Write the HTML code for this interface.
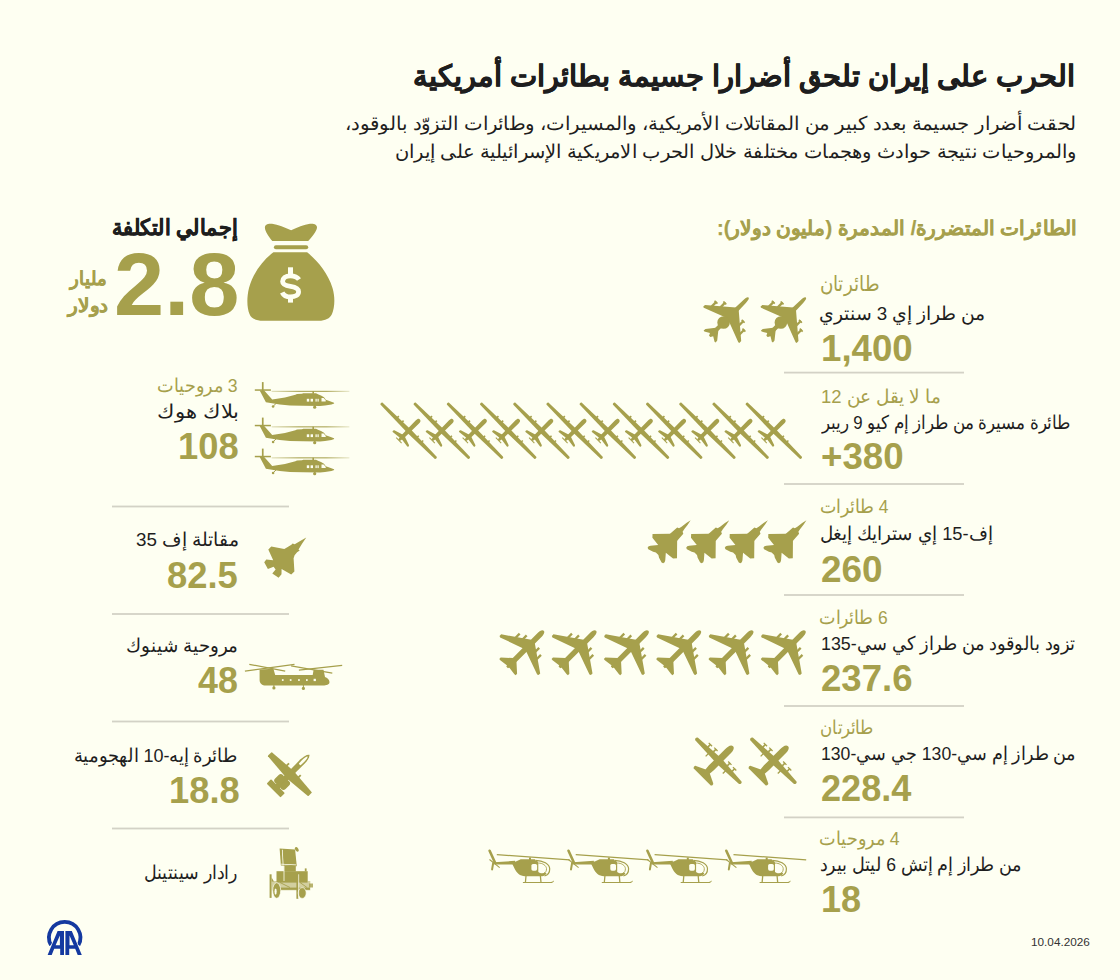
<!DOCTYPE html><html lang="ar"><head><meta charset="utf-8"><style>*{margin:0;padding:0;box-sizing:border-box}
html,body{width:1120px;height:980px;overflow:hidden;background:#fefff2}
body{position:relative;font-family:"Liberation Sans",sans-serif}
.t{position:absolute;white-space:nowrap;line-height:1;transform-origin:0 0;direction:rtl;unicode-bidi:isolate}
.n{direction:ltr}
.b{font-weight:bold}
#title,#tot{-webkit-text-stroke:0.45px currentColor}
#sec,#mil1,#mil2{-webkit-text-stroke:0.25px currentColor}
.bl{display:inline-block;width:0;height:0;vertical-align:baseline}
.ic{position:absolute;left:0;top:0}</style></head><body>
<svg class="ic" width="1120" height="980" viewBox="0 0 1120 980"><defs><linearGradient id="bhr" x1="0" x2="1" y1="0" y2="0"><stop offset="0" stop-color="#a6a04c" stop-opacity="0.35"/><stop offset="0.35" stop-color="#a6a04c" stop-opacity="0.95"/><stop offset="0.7" stop-color="#a6a04c" stop-opacity="0.95"/><stop offset="1" stop-color="#a6a04c" stop-opacity="0.25"/></linearGradient><g id="e3">
<path d="M0,-28.7 C1.3,-28.7 1.9,-26.5 1.9,-23 L2.3,-12 L2.1,20 L0.8,25.6 L-0.8,25.6 L-2.1,20 L-2.3,-12 L-1.9,-23 C-1.9,-26.5 -1.3,-28.7 0,-28.7Z"/>
<polygon points="2.00,-12.80 25.60,7.30 25.60,9.90 24.40,10.20 2.00,1.60 -2.00,1.60 -24.40,10.20 -25.60,9.90 -25.60,7.30 -2.00,-12.80"/>
<polygon points="1.80,15.80 8.30,23.90 8.50,26.30 7.20,26.60 2.30,23.60 0.90,26.20 -0.90,26.20 -2.30,23.60 -7.20,26.60 -8.50,26.30 -8.30,23.90 -1.80,15.80"/>
<circle cx="0" cy="6.6" r="6.3"/>
<rect x="11.8" y="-8.9" width="2.3" height="7"/><rect x="-14.1" y="-8.9" width="2.3" height="7"/>
<rect x="18.6" y="-3.2" width="2.3" height="7"/><rect x="-20.9" y="-3.2" width="2.3" height="7"/>
<rect x="10.9" y="-8.9" width="4.1" height="1.6"/><rect x="-15" y="-8.9" width="4.1" height="1.6"/>
<rect x="17.7" y="-3.2" width="4.1" height="1.6"/><rect x="-21.8" y="-3.2" width="4.1" height="1.6"/>
</g><g id="kc">
<path d="M0,-25.3 C2,-25.3 2.7,-22.5 2.7,-19 L2.7,20 L1.2,26.5 L-1.2,26.5 L-2.7,20 L-2.7,-19 C-2.7,-22.5 -2,-25.3 0,-25.3Z"/>
<polygon points="2.50,-10.20 27.60,7.30 27.60,9.60 26.20,10.20 2.50,1.80 -2.50,1.80 -26.20,10.20 -27.60,9.60 -27.60,7.30 -2.50,-10.20"/>
<polygon points="2.20,15.50 11.60,24.00 11.60,26.00 10.00,26.20 2.20,25.20 -2.20,25.20 -10.00,26.20 -11.60,26.00 -11.60,24.00 -2.20,15.50"/>
<rect x="7.7" y="-10" width="2.3" height="6.5"/><rect x="-10" y="-10" width="2.3" height="6.5"/>
<rect x="13.9" y="-6.3" width="2.3" height="6.5"/><rect x="-16.2" y="-6.3" width="2.3" height="6.5"/>
</g><g id="mq">
<path d="M0,-16 C1.6,-16 2.2,-14.5 2.2,-12.5 L1.9,9 L1.1,13.6 L-1.1,13.6 L-1.9,9 L-2.2,-12.5 C-2.2,-14.5 -1.6,-16 0,-16Z"/>
<path d="M1.5,-2.4 L38.2,-1.5 C39.4,-1.4 39.4,1.3 38.2,1.4 L1.5,2.3 L-38.2,1.4 C-39.4,1.3 -39.4,-1.4 -38.2,-1.5 L-1.5,-2.4Z"/>
<path d="M1.2,6.8 L10.3,9.8 C11.3,10.2 11.3,12.1 10.3,12.2 L1.2,10.8 L-10.3,12.2 C-11.3,12.1 -11.3,10.2 -10.3,9.8 L-1.2,6.8Z"/>
<rect x="9.9" y="-3.6" width="1.6" height="2.5"/><rect x="-11.5" y="-3.6" width="1.6" height="2.5"/>
<rect x="16.4" y="-3.4" width="1.6" height="2.5"/><rect x="-18" y="-3.4" width="1.6" height="2.5"/>
<rect x="-3.8" y="13.2" width="7.6" height="1"/>
</g><g id="f15">
<polygon points="0.00,-28.50 1.10,-23.50 1.90,-17.50 2.50,-14.60 4.30,-13.80 4.90,-5.50 5.20,-4.20 17.30,8.10 14.60,11.00 5.40,12.00 10.40,17.80 11.30,19.60 11.00,21.40 9.40,22.00 4.20,20.40 1.80,18.90 0.00,18.90 0.00,18.90 -1.80,18.90 -4.20,20.40 -9.40,22.00 -11.00,21.40 -11.30,19.60 -10.40,17.80 -5.40,12.00 -14.60,11.00 -17.30,8.10 -5.20,-4.20 -4.90,-5.50 -4.30,-13.80 -2.50,-14.60 -1.90,-17.50 -1.10,-23.50 0.00,-28.50"/>
</g><g id="c130">
<path d="M0,-20.6 C2.9,-20.6 3.5,-16.5 3.5,-12.5 L3.4,10 C3.3,15 2.2,18.5 1.4,22.5 L-1.4,22.5 C-2.2,18.5 -3.3,15 -3.4,10 L-3.5,-12.5 C-3.5,-16.5 -2.9,-20.6 0,-20.6Z"/>
<path d="M2,-3.6 L30.6,-1.7 C32.6,-1.5 32.6,1.7 30.6,1.9 L2,3.3 L-30.6,1.9 C-32.6,1.7 -32.6,-1.5 -30.6,-1.7 L-2,-3.6Z"/>
<path d="M1.5,14.5 L12.2,19.6 C13.4,20.2 13.3,22.6 12,22.9 L1.5,23 L-12,22.9 C-13.3,22.6 -13.4,20.2 -12.2,19.6 L-1.5,14.5Z"/>
<rect x="9" y="-6.6" width="1.7" height="4"/><rect x="-10.7" y="-6.6" width="1.7" height="4"/>
<rect x="16.3" y="-6.1" width="1.7" height="4"/><rect x="-18" y="-6.1" width="1.7" height="4"/>
<rect x="7.5" y="-6.9" width="4.7" height="1.3"/><rect x="-12.2" y="-6.9" width="4.7" height="1.3"/>
<rect x="14.8" y="-6.4" width="4.7" height="1.3"/><rect x="-19.5" y="-6.4" width="4.7" height="1.3"/>
<rect x="11.5" y="2" width="1.3" height="4"/><rect x="-12.8" y="2" width="1.3" height="4"/>
</g><g id="a10">
<path d="M0,-27.6 C2.2,-26 3,-22 3,-18 L2.8,19 L-2.8,19 L-3,-18 C-3,-22 -2.2,-26 0,-27.6Z"/>
<path d="M0,-25 C0.9,-24.4 1.4,-22 1.4,-19 L1.2,-14 C0.8,-13.4 -0.8,-13.4 -1.2,-14 L-1.4,-19 C-1.4,-22 -0.9,-24.4 0,-25 Z" fill="#fefff2"/>
<polygon points="2.00,-4.80 28.20,-2.70 28.60,-2.20 28.60,2.30 28.20,2.80 2.00,5.00 -2.00,5.00 -28.20,2.80 -28.60,2.30 -28.60,-2.20 -28.20,-2.70 -2.00,-4.80"/>
<rect x="-9.8" y="16.9" width="19.6" height="6.2" rx="0.9"/>
<rect x="0.8" y="5.5" width="6.6" height="11" rx="3"/><rect x="-7.4" y="5.5" width="6.6" height="11" rx="3"/>
<rect x="7.4" y="-7" width="1.8" height="4"/><rect x="-9.2" y="-7" width="1.8" height="4"/>
</g><g id="f35"><polygon points="51.30,7.40 47.20,13.60 43.50,19.50 44.70,20.40 42.10,22.20 39.60,25.30 38.60,28.30 39.40,41.40 36.20,44.40 26.60,38.90 26.50,44.20 23.60,47.80 17.30,43.50 20.60,39.50 18.60,36.70 12.90,38.90 9.20,32.30 11.30,29.40 18.20,30.30 13.30,19.60 16.30,16.50 29.30,19.00 32.70,17.10 36.40,14.70 37.60,13.50 39.70,14.30 45.20,11.00"/></g><g id="bh">
<rect x="11.9" y="7.1" width="1.7" height="9"/>
<rect x="4.8" y="14.3" width="16.1" height="1.5"/>
<path d="M9.7,15.4 L14.2,15.4 L22.2,24.6 L35,22.4 L45.4,19.8 L47,19.1 L52,18.8 L53.2,18.3 L66,18.3 L68.5,19.6 L71,20.6 L74,22.2 L75.8,24.8 L80,26.3 L84,27.8 L84.2,28.6 L81.5,29.5 L75,30.4 L70,31 L53,30.8 L40,30.4 L29.8,29.4 L15.9,27.2 Z"/>
<rect x="21.6" y="15.8" width="77.8" height="1.1" fill="url(#bhr)"/>
<rect x="62.4" y="16.2" width="1.6" height="2.6"/>
<circle cx="23.1" cy="31.5" r="1.3"/><line x1="23.4" y1="31" x2="26" y2="28.5" stroke-width="1"/>
<circle cx="64.7" cy="32.2" r="1.6"/><rect x="64.1" y="30" width="1.2" height="2.4"/>
<g fill="#fefff2"><rect x="56.8" y="23.8" width="2.4" height="2.8"/><rect x="60.6" y="23.8" width="2.4" height="2.8"/>
<rect x="65.5" y="23.8" width="1.2" height="2.8"/><rect x="67.5" y="23.8" width="1.2" height="2.8"/>
<path d="M71.5,23 L73.6,23 L75.8,25.6 L75.6,26.6 L71.5,26.6Z"/></g>
</g><g id="lb">
<line x1="4.6" y1="5.8" x2="10.2" y2="18" stroke-width="2.6" stroke-linecap="round"/>
<line x1="8.2" y1="18" x2="7.1" y2="24.4" stroke-width="2" stroke-linecap="round"/>
<line x1="4.5" y1="14.5" x2="14.7" y2="22.6" stroke-width="1.1"/>
<polygon points="9,17.2 30,15.8 30,19.6 9.5,19.6"/>
<line x1="11.8" y1="9.6" x2="84.5" y2="14.8" stroke-width="1.3"/>
<rect x="44" y="12.5" width="2" height="2.5"/>
<path d="M27,18.2 C30,16.5 33,15.8 35.7,14.3 L50,14.3 L50.5,15.5 C52,15.8 53,16.5 53.3,17.5 L53.3,27 C55,28.5 58,28.8 60.5,27.5 L61.5,28.5 C60.5,30 59,31 57,31.3 L40,31.3 C35,31 31.5,28 29.5,23.5 Z"/>
<rect x="46.4" y="18.9" width="5.7" height="6.8" rx="1.6" fill="#fefff2"/>
<path d="M50.5,15.3 C58,15.4 64.6,19 64.7,23.8 C64.8,27.5 62.5,30.2 59.5,30.8" fill="none" stroke-width="1.2"/>
<path d="M53.3,18.1 C57.5,17.9 61.3,20.5 61.5,23.6 C61.6,26 60.6,27.6 59,28.1" fill="none" stroke-width="0.9"/>
<line x1="41" y1="31" x2="40.4" y2="37.5" stroke-width="1.3"/><line x1="55.4" y1="31" x2="56" y2="37.5" stroke-width="1.3"/>
<path d="M37.9,37 L66,37 C67.3,37 68,36.3 68.6,35.6 L68.9,36.2 C68.2,37.3 67.3,38.1 66,38.1 L37.9,38.1Z"/>
</g><g id="ch">
<path d="M19.6,14.6 L33.4,13.8 L35.2,20.1 L72.7,20.1 L73.6,14.7 L83.5,14.7 L85,22 C88,23 90,25.5 89.4,28 C88.6,30 85,30.6 82,30.6 L26,30.6 C22,30.6 19.6,28.5 19.6,25 Z"/>
<g stroke-width="1.2"><line x1="4.9" y1="16.2" x2="54.5" y2="9.3"/><line x1="9.3" y1="9.3" x2="45.2" y2="16.2"/>
<line x1="51.1" y1="10.8" x2="92.3" y2="18.2"/><line x1="58.9" y1="15.2" x2="102.2" y2="10.3"/></g>
<circle cx="33.9" cy="32.9" r="1.6"/><circle cx="63.4" cy="33.4" r="1.6"/><rect x="33.4" y="30" width="1" height="2"/><rect x="62.9" y="30" width="1" height="2.5"/>
<g fill="#fefff2"><rect x="41.9" y="24.2" width="1.7" height="1.7"/><rect x="49.8" y="24.2" width="1.7" height="1.7"/>
<rect x="58.1" y="24.2" width="1.7" height="1.7"/><rect x="66" y="24.2" width="1.7" height="1.7"/>
<rect x="73.6" y="23.8" width="2.3" height="2.3"/></g>
</g><g id="rd">
<polygon points="19.6,8.6 35.1,9.6 36.8,26.2 20.9,25.4"/>
<ellipse cx="36.8" cy="9.4" rx="1.6" ry="2.6" transform="rotate(-35 36.8 9.4)"/>
<rect x="23.9" y="25.5" width="11.9" height="6"/>
<rect x="16.5" y="31.2" width="31.2" height="9.8"/>
<rect x="11.8" y="41" width="38.5" height="9.3" opacity="0.5"/><rect x="49" y="43.5" width="4" height="4" opacity="0.8"/><line x1="20" y1="42.5" x2="30" y2="47.5" stroke-width="0.9"/><line x1="40" y1="42.5" x2="47" y2="47.5" stroke-width="0.9"/>
<rect x="13" y="47.6" width="37" height="2.2"/>
<rect x="16.5" y="41" width="31" height="1.6"/>
<rect x="9.6" y="34.3" width="2" height="23.6"/>
<polygon points="11.6,37.5 14,41.5 11.6,41.5"/>
<rect x="36.4" y="34.3" width="2" height="24.5"/>
<rect x="44.8" y="28.4" width="1.8" height="3"/>
<ellipse cx="16.7" cy="50.5" rx="4" ry="7.8" stroke="#fefff2" stroke-width="0.7"/>
<ellipse cx="42.2" cy="53" rx="4" ry="5.4" stroke="#fefff2" stroke-width="0.7"/>
<g fill="#fefff2"><rect x="22.3" y="9.8" width="0.8" height="15.4" transform="rotate(-3 22.7 17)"/>
<rect x="21" y="24.1" width="15" height="0.8" transform="rotate(3 28.5 24.5)"/>
<rect x="23.6" y="26" width="0.8" height="15"/>
<ellipse cx="15.6" cy="51.6" rx="1.1" ry="3.1"/>
<rect x="38.4" y="34.3" width="0.7" height="24"/></g>
</g></defs>
<g fill="#a6a04c" stroke="#a6a04c" stroke-width="0">
<use href="#e3" transform="translate(728.25,317.85) rotate(45)"/>
<use href="#e3" transform="translate(785.55,317.85) rotate(45)"/>
<use href="#mq" transform="translate(408.60,430.7) rotate(45)"/>
<use href="#mq" transform="translate(441.80,430.7) rotate(45)"/>
<use href="#mq" transform="translate(475.00,430.7) rotate(45)"/>
<use href="#mq" transform="translate(508.20,430.7) rotate(45)"/>
<use href="#mq" transform="translate(541.40,430.7) rotate(45)"/>
<use href="#mq" transform="translate(574.60,430.7) rotate(45)"/>
<use href="#mq" transform="translate(607.80,430.7) rotate(45)"/>
<use href="#mq" transform="translate(641.00,430.7) rotate(45)"/>
<use href="#mq" transform="translate(674.20,430.7) rotate(45)"/>
<use href="#mq" transform="translate(707.40,430.7) rotate(45)"/>
<use href="#mq" transform="translate(740.60,430.7) rotate(45)"/>
<use href="#mq" transform="translate(773.80,430.7) rotate(45)"/>
<use href="#f15" transform="translate(670.50,540.4) rotate(45)"/>
<use href="#f15" transform="translate(709.10,540.4) rotate(45)"/>
<use href="#f15" transform="translate(747.70,540.4) rotate(45)"/>
<use href="#f15" transform="translate(786.30,540.4) rotate(45)"/>
<use href="#kc" transform="translate(525.85,648.7) rotate(45)"/>
<use href="#kc" transform="translate(578.15,648.7) rotate(45)"/>
<use href="#kc" transform="translate(630.45,648.7) rotate(45)"/>
<use href="#kc" transform="translate(682.75,648.7) rotate(45)"/>
<use href="#kc" transform="translate(735.05,648.7) rotate(45)"/>
<use href="#kc" transform="translate(787.35,648.7) rotate(45)"/>
<use href="#c130" transform="translate(718.45,760.7) rotate(45)"/>
<use href="#c130" transform="translate(773.45,760.7) rotate(45)"/>
<use href="#lb" transform="translate(485.00,845)"/>
<use href="#lb" transform="translate(563.90,845)"/>
<use href="#lb" transform="translate(642.80,845)"/>
<use href="#lb" transform="translate(721.70,845)"/>
<use href="#bh" transform="translate(250,375)"/>
<use href="#bh" transform="translate(250,410.5)"/>
<use href="#bh" transform="translate(250,441.5)"/>
<use href="#f35" transform="translate(255,530)"/>
<use href="#ch" transform="translate(240,655)"/>
<use href="#a10" transform="translate(289.9,774.2) rotate(45)"/>
<use href="#rd" transform="translate(260,840)"/>
<g transform="translate(245,218)">
<path d="M27.3,23 C24,19 20,13.5 19.9,9.8 C19.8,6.5 23,5.3 27,5.8 C33,6.6 40,9.5 46.1,12.3 C52,9.5 59,6.6 65,5.8 C69,5.3 72.3,6.8 72,9.8 C71.5,13.5 67,19 63.2,23 Z"/>
<rect x="28.9" y="27.2" width="34.3" height="4" rx="2"/>
<path d="M28.4,34.3 L62.1,34.3 C72,42 83,55 87.5,70 C90.5,80 89.5,90 87,96 C85,100.5 80,102.8 74,102.8 L18,102.8 C11,102.8 6,100.5 4.5,96 C2,90 1.5,80 4,70 C8,55 18,42 28.4,34.3Z"/>
<g fill="#fefff2"><rect x="43" y="49.3" width="5" height="8"/><rect x="43" y="78" width="5" height="6.6"/></g>
<path d="M54,61.5 C52,58.5 48.5,57.8 45.5,57.8 C40.5,57.8 37.6,60.3 37.6,63.6 C37.6,67.2 41.5,67.9 45.5,68.4 C50,69 53.6,70.2 53.6,73.8 C53.6,77 50.3,78.9 45.5,78.9 C41.8,78.9 38.6,77.4 37.2,74.4" fill="none" stroke="#fefff2" stroke-width="4.8"/>
</g>
</g>
<g fill="#1439a0" transform="translate(40,910)">
<path d="M10.96,35.2 A15.7,15.7 0 1 1 38.44,35.2" fill="none" stroke="#1439a0" stroke-width="3.8"/>
<path d="M7.6,44.9 L17.6,20.9 L24,20.9 L24,44.9 L20.2,44.9 L20.2,38.8 L14.2,38.8 L11.7,44.9 Z M15.6,35.2 L19.9,35.2 L19.9,25.5 Z" fill-rule="evenodd" stroke="#fefff2" stroke-width="1.4" paint-order="stroke"/>
<path d="M41.8,44.9 L31.8,20.9 L25.4,20.9 L25.4,44.9 L29.2,44.9 L29.2,38.8 L35.2,38.8 L37.7,44.9 Z M33.8,35.2 L29.5,35.2 L29.5,25.5 Z" fill-rule="evenodd" stroke="#fefff2" stroke-width="1.4" paint-order="stroke"/>
</g>
<rect x="784" y="371.7" width="180" height="1.8" fill="#d3d2c6"/>
<rect x="784" y="483.1" width="180" height="1.8" fill="#d3d2c6"/>
<rect x="784" y="594.1" width="180" height="1.8" fill="#d3d2c6"/>
<rect x="784" y="705.1" width="180" height="1.8" fill="#d3d2c6"/>
<rect x="784" y="816.5" width="180" height="1.8" fill="#d3d2c6"/>
<rect x="112" y="505.6" width="177" height="1.8" fill="#d3d2c6"/>
<rect x="112" y="613.1" width="177" height="1.8" fill="#d3d2c6"/>
<rect x="112" y="720.6" width="177" height="1.8" fill="#d3d2c6"/>
<rect x="112" y="827.6" width="177" height="1.8" fill="#d3d2c6"/>
</svg>
<div id="title" class="t b" style="left:413.00px;top:62.00px;font-size:29.25px;color:#1e1e1e;transform:scale(0.9984,1.0007);">الحرب على إيران تلحق أضرارا جسيمة بطائرات أمريكية</div>
<div id="sub1" class="t" style="left:345.00px;top:114.00px;font-size:19.00px;color:#1e1e1e;transform:scale(1.0387,1.0000);">لحقت أضرار جسيمة بعدد كبير من المقاتلات الأمريكية، والمسيرات، وطائرات التزوّد بالوقود،</div>
<div id="sub2" class="t" style="left:395.00px;top:141.80px;font-size:19.00px;color:#1e1e1e;transform:scale(1.0250,1.0000);">والمروحيات نتيجة حوادث وهجمات مختلفة خلال الحرب الامريكية الإسرائيلية على إيران</div>
<div id="sec" class="t b" style="left:717.00px;top:218.20px;font-size:20.00px;color:#a6a04c;transform:scale(1.0054,1.0000);">الطائرات المتضررة/ المدمرة (مليون دولار):</div>
<div id="tot" class="t b" style="left:112.00px;top:217.61px;font-size:21.50px;color:#1e1e1e;transform:scale(0.9432,1.0000);">إجمالي التكلفة</div>
<div id="big" class="t b n" style="left:114.40px;top:239.80px;font-size:89.28px;color:#a6a04c;transform:scale(1.0101,0.9968);">2.8</div>
<div id="mil1" class="t b" style="left:69.80px;top:269.20px;font-size:19.71px;color:#a6a04c;transform:scale(0.9320,0.9833);">مليار</div>
<div id="mil2" class="t b" style="left:67.80px;top:296.80px;font-size:18.66px;color:#a6a04c;transform:scale(1.0823,1.0213);">دولار</div>
<div id="r1a" class="t" style="left:819.80px;top:274.41px;font-size:20.50px;color:#a6a04c;transform:scale(0.8726,1.0000);">طائرتان</div>
<div id="r1b" class="t" style="left:819.20px;top:303.91px;font-size:19.00px;color:#1e1e1e;transform:scale(0.9892,1.0000);">من طراز إي 3 سنتري</div>
<div id="r1c" class="t b n" style="left:821.00px;top:329.80px;font-size:36.52px;color:#a6a04c;transform:scale(1.0041,1.0205);">1,400</div>
<div id="r2a" class="t" style="left:821.00px;top:386.71px;font-size:19.00px;color:#a6a04c;transform:scale(0.9727,1.0000);">ما لا يقل عن 12</div>
<div id="r2b" class="t" style="left:821.60px;top:412.91px;font-size:19.00px;color:#1e1e1e;transform:scale(0.8823,1.0000);">طائرة مسيرة من طراز إم كيو 9 ريبر</div>
<div id="r2c" class="t b n" style="left:821.20px;top:438.20px;font-size:37.77px;color:#a6a04c;transform:scale(0.9719,0.9923);">+380</div>
<div id="r3a" class="t" style="left:819.60px;top:497.41px;font-size:19.00px;color:#a6a04c;transform:scale(0.9137,1.0000);">4 طائرات</div>
<div id="r3b" class="t" style="left:819.60px;top:524.41px;font-size:19.00px;color:#1e1e1e;transform:scale(0.9630,1.0000);">إف-15 إي سترايك إيغل</div>
<div id="r3c" class="t b n" style="left:820.80px;top:551.60px;font-size:37.33px;color:#a6a04c;transform:scale(0.9895,0.9695);">260</div>
<div id="r4a" class="t" style="left:819.40px;top:608.21px;font-size:19.00px;color:#a6a04c;transform:scale(0.9178,1.0000);">6 طائرات</div>
<div id="r4b" class="t" style="left:821.00px;top:634.00px;font-size:19.00px;color:#1e1e1e;transform:scale(0.9383,1.0000);">تزود بالوقود من طراز كي سي-135</div>
<div id="r4c" class="t b n" style="left:820.80px;top:659.80px;font-size:37.77px;color:#a6a04c;transform:scale(0.9681,0.9923);">237.6</div>
<div id="r5a" class="t" style="left:819.80px;top:718.21px;font-size:19.00px;color:#a6a04c;transform:scale(0.8766,1.0000);">طائرتان</div>
<div id="r5b" class="t" style="left:821.00px;top:744.00px;font-size:19.00px;color:#1e1e1e;transform:scale(0.9280,1.0000);">من طراز إم سي-130 جي سي-130</div>
<div id="r5c" class="t b n" style="left:820.80px;top:770.80px;font-size:37.33px;color:#a6a04c;transform:scale(0.9681,0.9695);">228.4</div>
<div id="r6a" class="t" style="left:819.40px;top:828.61px;font-size:19.00px;color:#a6a04c;transform:scale(0.9271,1.0000);">4 مروحيات</div>
<div id="r6b" class="t" style="left:819.60px;top:855.00px;font-size:19.00px;color:#1e1e1e;transform:scale(0.9261,1.0000);">من طراز إم إتش 6 ليتل بيرد</div>
<div id="r6c" class="t b n" style="left:821.00px;top:880.60px;font-size:37.77px;color:#a6a04c;transform:scale(0.9551,0.9923);">18</div>
<div id="date" class="t n" style="left:1030.60px;top:937.40px;font-size:11.79px;color:#333333;transform:scale(0.9982,0.9339);">10.04.2026</div>
<div id="l1a" class="t" style="left:157.20px;top:375.71px;font-size:19.00px;color:#a6a04c;transform:scale(0.9283,1.0000);">3 مروحيات</div>
<div id="l1b" class="t" style="left:157.20px;top:402.21px;font-size:19.00px;color:#1e1e1e;transform:scale(1.1113,1.0000);">بلاك هوك</div>
<div id="l1c" class="t b n" style="left:178.00px;top:428.20px;font-size:37.77px;color:#a6a04c;transform:scale(0.9632,0.9923);">108</div>
<div id="l2b" class="t" style="left:135.60px;top:530.30px;font-size:19.00px;color:#1e1e1e;transform:scale(0.9902,1.0000);">مقاتلة إف 35</div>
<div id="l2c" class="t b n" style="left:167.40px;top:556.50px;font-size:37.70px;color:#a6a04c;transform:scale(0.9651,0.9885);">82.5</div>
<div id="l3b" class="t" style="left:125.80px;top:635.80px;font-size:19.00px;color:#1e1e1e;transform:scale(0.9632,1.0000);">مروحية شينوك</div>
<div id="l3c" class="t b n" style="left:198.20px;top:661.80px;font-size:37.77px;color:#a6a04c;transform:scale(0.9488,0.9923);">48</div>
<div id="l4b" class="t" style="left:74.20px;top:746.21px;font-size:19.00px;color:#1e1e1e;transform:scale(0.9477,1.0000);">طائرة إيه-10 الهجومية</div>
<div id="l4c" class="t b n" style="left:168.80px;top:772.20px;font-size:37.77px;color:#a6a04c;transform:scale(0.9623,0.9923);">18.8</div>
<div id="l5b" class="t" style="left:144.00px;top:862.61px;font-size:19.00px;color:#1e1e1e;transform:scale(0.9180,1.0000);">رادار سينتينل</div>
</body></html>
